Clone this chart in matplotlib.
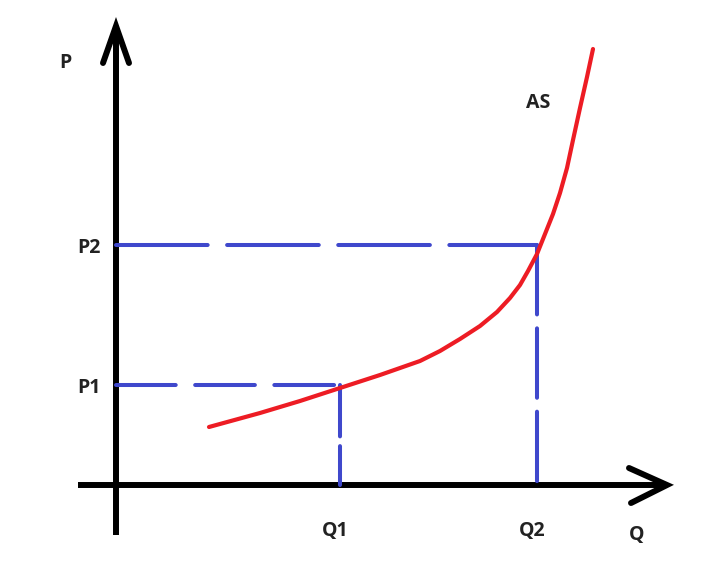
import matplotlib.pyplot as plt
import numpy as np

plt.rcParams['lines.scale_dashes'] = False

# levels (origin at the axes crossing)
q_levels = [224, 421]          # Q1, Q2
p_levels = [100, 240]          # P1, P2
q_labels = ["Q1", "Q2"]
p_labels = ["P1", "P2"]

# aggregate supply curve
as_q = [93, 144, 184, 224, 264, 304, 324, 344, 364, 381, 394, 404, 412,
        421, 429, 437, 444, 451, 457, 464, 471, 477]
as_p = [58, 72, 84, 97, 110, 124, 134, 146, 159, 173, 187, 200, 214,
        231, 251, 271, 292, 317, 345, 377, 408, 436]

blue = "#3F48CC"
red = "#ED1C24"
txt = "#222222"

fig = plt.figure(figsize=(7.11, 5.64), dpi=100)
ax = fig.add_axes([0, 0, 1, 1])
ax.set_xlim(-116, 595)
ax.set_ylim(-79, 485)
ax.axis("off")

# axes with open arrow heads
ax.plot([0, 0], [-50, 459], color="black", lw=4.3, solid_capstyle="butt")
ax.plot([-13, 0, 13], [422, 459, 422], color="black", lw=4.3,
        solid_capstyle="round", solid_joinstyle="miter")
ax.plot([-38, 551], [0, 0], color="black", lw=4.3, solid_capstyle="butt")
ax.plot([513, 551, 515], [17, 0, -18], color="black", lw=4.3,
        solid_capstyle="round", solid_joinstyle="miter")

# dashed guide lines
h_dash = [(0, (43, 14)), (0, (66, 14))]
v_dash = [(0, (37, 7)), (0, (50, 10))]
for q, p, hd, vd in zip(q_levels, p_levels, h_dash, v_dash):
    ax.plot([0, q], [p, p], color=blue, lw=2.9, linestyle=hd, dash_capstyle="round")
    ax.plot([q, q], [p, 0], color=blue, lw=2.9, linestyle=vd, dash_capstyle="round")

ax.plot(as_q, as_p, color=red, lw=3.0, solid_capstyle="round",
        solid_joinstyle="round", zorder=3)

font = dict(family=["Open Sans", "DejaVu Sans"], fontweight="bold", color=txt,
            fontsize=14, ha="center", va="center")
ax.text(-51, 422, "P", **font)
ax.text(521, -50, "Q", **font)
ax.text(422, 382, "AS", **font)
for p, lab in zip(p_levels, p_labels):
    ax.text(-27, p - 3, lab, **font)
for q, lab in zip(q_levels, q_labels):
    ax.text(q - 5, -46, lab, **font)

fig.savefig("out.png", dpi=100)
